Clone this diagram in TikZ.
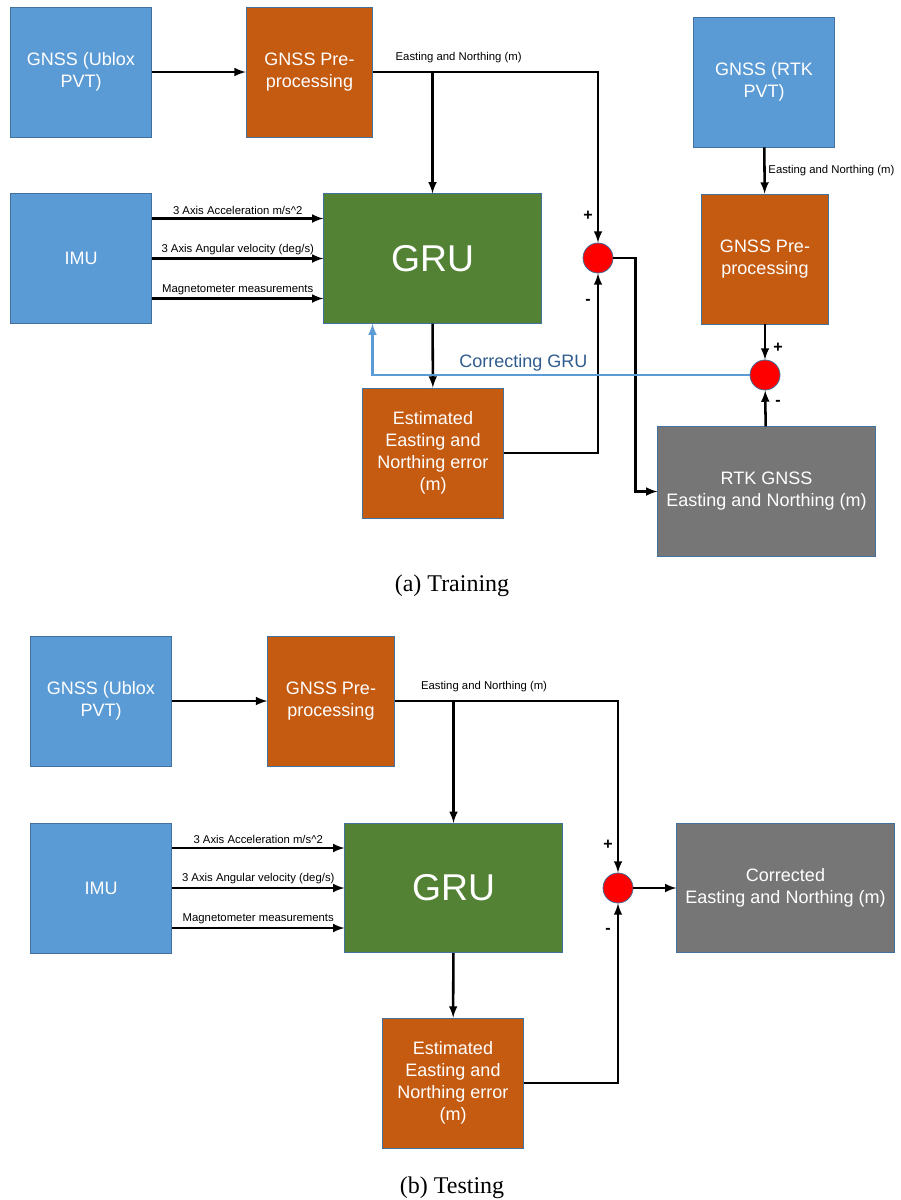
\documentclass[tikz,border=0pt]{standalone}
\usepackage{fontspec}
\setmainfont{Liberation Serif}
\setsansfont{Liberation Sans}
\usepackage{xcolor}
\usepackage{tikz}
\usetikzlibrary{arrows,shapes,positioning,calc}

\definecolor{boxblue}{HTML}{5B9BD5}
\definecolor{boxorange}{HTML}{C55A11}
\definecolor{boxgreen}{HTML}{548235}
\definecolor{boxgray}{HTML}{767676}
\definecolor{edgeblue}{HTML}{41719C}
\definecolor{textblue}{HTML}{2F5C8F}

\begin{document}
\begin{tikzpicture}[x=0.75pt, y=-0.75pt, >=latex,
  box/.style={draw=edgeblue, line width=0.6pt, rectangle, text=white, align=center, inner sep=2pt, font=\sffamily\fontsize{13.5}{16.5}\selectfont},
  small/.style={box, minimum width=106pt, minimum height=97.5pt},
  prebox/.style={box, minimum width=95pt, minimum height=97.5pt, fill=boxorange},
  wide/.style={box, minimum width=163pt, minimum height=97pt},
  adder/.style={draw=edgeblue, line width=0.6pt, circle, fill=red, minimum size=22.5pt, inner sep=0pt},
  lbl/.style={font=\sffamily\fontsize{8.5}{10}\selectfont, inner sep=2pt},
  sign/.style={font=\sffamily\bfseries\fontsize{12}{12}\selectfont, inner sep=0pt},
  wire/.style={line width=1.9pt},
  fb/.style={line width=1.9pt, draw=boxblue}
]
\useasboundingbox (0,0) rectangle (900,1200);

% (a) Training: sources
\node[small, fill=boxblue] (ublox) at (81,72) {GNSS (Ublox\\PVT)};
\node[prebox] (pre) at (309.5,72) {GNSS Pre-\\processing};
\node[small, fill=boxblue] (imu) at (81,258.5) {IMU};
\node[wide, fill=boxgreen, font=\sffamily\fontsize{28}{30}\selectfont] (gru) at (432.5,258.5) {GRU};
\node[small, fill=boxorange] (err) at (433,453) {Estimated\\Easting and\\Northing error\\(m)};
\node[adder] (sum) at (598,258) {};

% (a) Training: reference branch
\node[small, fill=boxblue] (rtk) at (764,82) {GNSS (RTK\\PVT)};
\node[prebox] (rtkpre) at (765,259) {GNSS Pre-\\processing};
\node[adder] (rtksum) at (765,375) {};
\node[wide, fill=boxgray] (rtkout) at (766.5,491.5) {RTK GNSS\\Easting and Northing (m)};

% signs
\node[sign] (plusa) at ($(sum)+(-10,-42)$) {+};
\node[sign] (minusa) at ($(sum)+(-10,44)$) {-};
\node[sign] (plusr) at ($(rtksum)+(13,-27)$) {+};
\node[sign] (minusr) at ($(rtksum)+(13,28)$) {-};

% (a) Training: connections
\draw[wire, ->] (ublox) -- (pre);
\draw[wire, ->] (pre.east) -| node[lbl, pos=0.19, above=4pt] {Easting and Northing (m)} (sum.north);
\draw[wire, ->] (gru.north |- pre.east) -- (gru.north);
\draw[wire, ->] ([yshift=30pt]imu.east) -- node[lbl, above] {3 Axis Acceleration m/s\textasciicircum 2} ([yshift=30pt]gru.west);
\draw[wire, ->] (imu) -- node[lbl, above] {3 Axis Angular velocity (deg/s)} (gru);
\draw[wire, ->] ([yshift=-30pt]imu.east) -- node[lbl, above] {Magnetometer measurements} ([yshift=-30pt]gru.west);
\draw[wire, ->] (gru) -- (err);
\draw[wire, ->] (err.east) -| (sum.south);
\draw[wire, ->] (sum.east) -| ([xshift=-16.5pt]rtkout.west) -- (rtkout.west);
\draw[wire, ->] (rtk) -- node[lbl, right] {Easting and Northing (m)} (rtkpre);
\draw[wire, ->] (rtkpre) -- (rtksum);
\draw[wire, ->] (rtkout) -- (rtksum);
\draw[fb, ->] (rtksum.west) -| node[pos=0.3, above, inner sep=2pt, text=textblue, font=\sffamily\fontsize{13.5}{16}\selectfont] {Correcting GRU} ([xshift=-45pt]gru.south);

\node[font=\fontsize{18}{20}\selectfont] (capa) at (452,586) {(a) Training};

% (b) Testing: blocks
\node[small, fill=boxblue] (ublox2) at (101,701) {GNSS (Ublox\\PVT)};
\node[prebox] (pre2) at (331,701) {GNSS Pre-\\processing};
\node[small, fill=boxblue] (imu2) at (101,888) {IMU};
\node[wide, fill=boxgreen, font=\sffamily\fontsize{28}{30}\selectfont] (gru2) at (453.5,888) {GRU};
\node[small, fill=boxorange] (err2) at (453,1083) {Estimated\\Easting and\\Northing error\\(m)};
\node[adder] (sum2) at (618,888) {};
\node[wide, fill=boxgray] (out2) at (785.5,888) {Corrected\\Easting and Northing (m)};

\node[sign] (plusb) at ($(sum2)+(-10,-43)$) {+};
\node[sign] (minusb) at ($(sum2)+(-10,43)$) {-};

% (b) Testing: connections
\draw[wire, ->] (ublox2) -- (pre2);
\draw[wire, ->] (pre2.east) -| node[lbl, pos=0.2, above=4pt] {Easting and Northing (m)} (sum2.north);
\draw[wire, ->] (gru2.north |- pre2.east) -- (gru2.north);
\draw[wire, ->] ([yshift=30pt]imu2.east) -- node[lbl, above] {3 Axis Acceleration m/s\textasciicircum 2} ([yshift=30pt]gru2.west);
\draw[wire, ->] (imu2) -- node[lbl, above] {3 Axis Angular velocity (deg/s)} (gru2);
\draw[wire, ->] ([yshift=-30pt]imu2.east) -- node[lbl, above] {Magnetometer measurements} ([yshift=-30pt]gru2.west);
\draw[wire, ->] (gru2) -- (err2);
\draw[wire, ->] (err2.east) -| (sum2.south);
\draw[wire, ->] (sum2) -- (out2);

\node[font=\fontsize{18}{20}\selectfont] (capb) at (452,1188) {(b) Testing};

\end{tikzpicture}
\end{document}
